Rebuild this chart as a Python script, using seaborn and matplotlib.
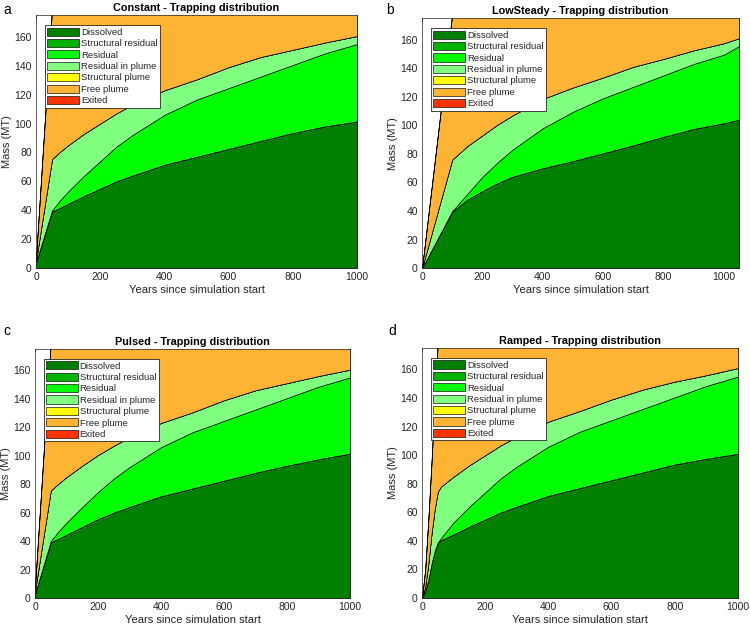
import numpy as np
import pandas as pd
import matplotlib
matplotlib.use("Agg")
import matplotlib.pyplot as plt
import seaborn as sns

# ---------------- data (MT) ----------------
categories = ["Dissolved", "Structural residual", "Residual", "Residual in plume",
              "Structural plume", "Free plume", "Exited"]
colors = ["#008000", "#00B300", "#00FF00", "#80FF80", "#FFFF00", "#FFB333", "#FF3300"]

# Constant
years_a = [0, 50, 75, 100, 150, 200, 250, 300, 400, 500, 600, 700, 800, 900, 1000]
dissolved_a = [4, 39, 41.8, 44.5, 50, 55, 60, 64, 71.5, 77, 82.5, 88, 93.5, 98, 101.5]
residual_a = [0, 1, 5.2, 8.5, 14, 19, 24, 28, 34.5, 39.5, 42, 44.5, 47, 50.5, 53.5]
rip_a = [1, 35.5, 33.5, 32, 29, 26, 23, 21, 17, 14, 14.5, 13.5, 10.5, 7.5, 5.5]
free_a = [2, 104.5, 99.5, 95, 87, 80, 73, 67, 57, 49.5, 41, 34, 29, 24, 19.5]

# LowSteady
years_b = [0, 100, 150, 200, 250, 300, 400, 500, 600, 700, 800, 900, 1000, 1050]
dissolved_b = [0, 39.5, 48, 54, 59.5, 64, 70, 75, 80.5, 86, 92, 97.5, 101.5, 104]
residual_b = [0, 0.5, 4, 10, 14.5, 19, 28, 34.5, 38.5, 41, 43, 45.5, 48, 51.5]
rip_b = [0, 36, 33.5, 29, 26.5, 24, 20.5, 17, 14.5, 14, 11.5, 9.5, 8, 5.5]
free_b = [0, 102, 92.5, 85, 77.5, 71, 59.5, 51.5, 44.5, 37, 31.5, 25.5, 20.5, 17]

# Pulsed
years_c = [0, 50, 75, 100, 150, 200, 250, 300, 400, 500, 600, 700, 800, 900, 1000]
dissolved_c = [3, 39, 41.8, 44.5, 50, 55.5, 60, 64, 71.5, 77, 82.5, 88, 93, 97.5, 101.5]
residual_c = [0, 1, 5.2, 8.5, 14, 19, 24, 28, 34.5, 39.5, 42, 44.5, 47.5, 51, 53.5]
rip_c = [2, 35.5, 33.5, 32, 29, 26, 23, 21, 17, 14, 14.5, 13.5, 10.5, 7.5, 5.5]
free_c = [3, 104.5, 99.5, 95, 87, 79.5, 73, 67, 57, 49.5, 41, 34, 29, 24, 19.5]

# Ramped
years_d = [0, 10, 20, 30, 40, 50, 60, 100, 150, 200, 250, 300, 400, 500, 600, 700, 800,
           900, 1000]
dissolved_d = [0, 5, 13, 24, 33, 38.5, 40.5, 44.5, 50, 55, 60, 64, 71.5, 77, 82.5, 88, 93.5,
               97.5, 101]
residual_d = [0, 0, 0, 0, 0, 0.5, 1.5, 8.5, 14, 19, 24, 28, 34.5, 39.5, 42, 44.5, 47, 51, 54]
rip_d = [0, 3, 11, 21, 29, 35.5, 36, 32, 29, 26, 23, 21, 17.5, 14.5, 14.5, 13.5, 11,
         7.5, 6]
free_d = [0, 12, 31, 50, 76, 105.5, 102, 95, 87, 80, 73, 67, 56.5, 49, 41, 34, 28.5,
          24, 19]

scenarios = ["Constant", "LowSteady", "Pulsed", "Ramped"]
panel_letters = ["a", "b", "c", "d"]
x_max = [1000, 1050, 1000, 1000]
xticks = [0, 200, 400, 600, 800, 1000]
yticks = [0, 20, 40, 60, 80, 100, 120, 140, 160]

panels = [
    (years_a, dissolved_a, residual_a, rip_a, free_a),
    (years_b, dissolved_b, residual_b, rip_b, free_b),
    (years_c, dissolved_c, residual_c, rip_c, free_c),
    (years_d, dissolved_d, residual_d, rip_d, free_d),
]

# ---------------- style ----------------
sns.set_theme(style="white")
plt.rcParams["font.family"] = ["Liberation Sans", "DejaVu Sans"]
txt = "#262626"

fig = plt.figure(figsize=(7.5, 6.28), dpi=100)
rects = [
    [0.048, 0.573, 0.428, 0.403],
    [0.5627, 0.573, 0.4226, 0.398],
    [0.0467, 0.0478, 0.420, 0.3965],
    [0.5627, 0.0478, 0.4213, 0.398],
]
letter_pos = [(0.004, 0.995), (0.515, 0.995), (0.004, 0.484), (0.518, 0.484)]

for i, (yrs, dis, res, rip, free) in enumerate(panels):
    ax = fig.add_axes(rects[i])
    df = pd.DataFrame({
        "Years": yrs,
        "Dissolved": dis,
        "Structural residual": np.zeros(len(yrs)),
        "Residual": res,
        "Residual in plume": rip,
        "Structural plume": np.zeros(len(yrs)),
        "Free plume": free,
        "Exited": np.zeros(len(yrs)),
    })
    ax.stackplot(df["Years"], *[df[c] for c in categories], labels=categories,
                 colors=colors, edgecolor="black", linewidth=0.45)
    ax.set_xlim(0, x_max[i])
    ax.set_ylim(0, 175)
    ax.set_xticks(xticks)
    ax.set_yticks(yticks)
    ax.tick_params(direction="in", length=2.5, width=0.5, top=True, right=True,
                   labelsize=7.5, colors=txt, pad=3)
    for sp in ax.spines.values():
        sp.set_color(txt)
        sp.set_linewidth(0.5)
    ax.set_xlabel("Years since simulation start", fontsize=8, color=txt, labelpad=2)
    ax.set_ylabel("Mass (MT)", fontsize=8, color=txt, labelpad=2)
    ax.set_title(f"{scenarios[i]} - Trapping distribution", fontsize=7.8,
                 fontweight="bold", color="black", pad=3)
    leg = ax.legend(loc="upper left", bbox_to_anchor=(0.028, 0.96), fontsize=6.8,
                    frameon=True, fancybox=False, edgecolor="#262626",
                    handlelength=3.4, handleheight=0.95, labelspacing=0.22,
                    handletextpad=0.15, borderpad=0.25, borderaxespad=0.0)
    leg.get_frame().set_linewidth(0.6)
    leg.get_frame().set_alpha(1)
    for t in leg.get_texts():
        t.set_color(txt)
    fig.text(letter_pos[i][0], letter_pos[i][1], panel_letters[i], fontsize=10,
             color="black", ha="left", va="top")

fig.savefig("out.png", dpi=100)
